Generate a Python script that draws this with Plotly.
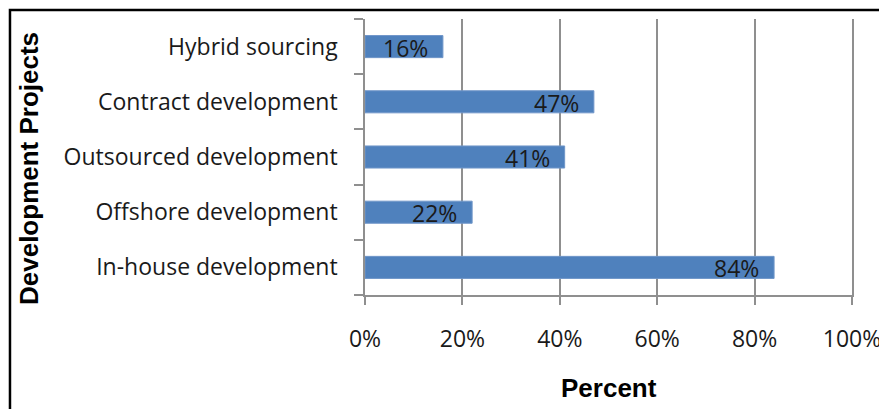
import plotly.graph_objects as go

# Share of organisations using each development approach (percent)
categories = [
    "In-house development",
    "Offshore development",
    "Outsourced development",
    "Contract development",
    "Hybrid sourcing",
]
percent = [84, 22, 41, 47, 16]
x_ticks = [0, 20, 40, 60, 80, 100]
x_tick_labels = ["0%", "20%", "40%", "60%", "80%", "100%"]

label_font = dict(family="Open Sans", size=23, color="#1a1a1a")
title_font = dict(family="Liberation Sans", size=26, color="#000000")
grid_col = "#8f8f8f"

fig = go.Figure()
fig.add_trace(
    go.Bar(
        y=categories,
        x=percent,
        orientation="h",
        width=0.4,
        marker=dict(color="#4F81BD", line=dict(color="#7096c9", width=1)),
        hoverinfo="skip",
    )
)

# value labels just inside the end of each bar
for cat, val in zip(categories, percent):
    fig.add_annotation(
        x=val, y=cat, xref="x", yref="y",
        text=f"{val}%", showarrow=False,
        xanchor="right", yanchor="middle", xshift=-13, yshift=-1,
        font=label_font,
    )

fig.update_layout(
    width=879, height=409,
    margin=dict(l=365, r=27, t=19, b=114, autoexpand=False),
    paper_bgcolor="white", plot_bgcolor="white",
    showlegend=False,
    bargap=0.6,
)

fig.update_xaxes(
    range=[0, 100], automargin=False,
    tickvals=x_ticks, ticktext=x_tick_labels,
    ticklabeloverflow="allow",
    showgrid=True, gridcolor=grid_col, gridwidth=1.5,
    showline=True, linecolor=grid_col, linewidth=1.5,
    ticks="outside", ticklen=8, tickcolor=grid_col, tickwidth=1.5,
    ticklabelstandoff=15,
    tickfont=label_font, zeroline=False,
)
# mirrored y line doubles as the 100% gridline on the right edge
fig.update_yaxes(
    type="category", automargin=False,
    categoryorder="array", categoryarray=categories,
    showgrid=False,
    showline=True, mirror=True, linecolor=grid_col, linewidth=1.5,
    ticks="outside", ticklen=9, tickcolor=grid_col, tickwidth=1.5,
    tickson="boundaries",
    ticklabelstandoff=21,
    tickfont=label_font,
)

# axis titles
fig.add_annotation(
    text="<b>Percent</b>", xref="paper", yref="paper",
    x=0.5, y=-0.337, xanchor="center", yanchor="middle",
    showarrow=False, font=title_font,
)
fig.add_annotation(
    text="<b>Development Projects</b>", xref="paper", yref="paper",
    x=-0.69, y=0.46, xanchor="center", yanchor="middle",
    textangle=-90, showarrow=False, font=title_font,
)

# outer frame of the chart area
fig.add_shape(
    type="rect", xref="paper", yref="paper",
    x0=-0.729, x1=1.2, y0=-0.6, y1=1.0326,
    line=dict(color="black", width=2.5), fillcolor="rgba(0,0,0,0)",
    layer="above",
)

fig.write_html("out.html")
